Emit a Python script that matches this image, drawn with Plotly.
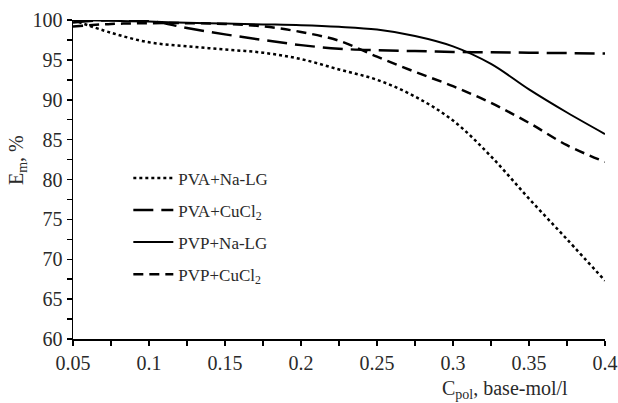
import plotly.graph_objects as go

# concentration, base-mol/l
c_pol = [0.05, 0.075, 0.1, 0.125, 0.15, 0.175, 0.2, 0.225, 0.25, 0.275, 0.3, 0.325, 0.35, 0.375, 0.4]

pva_nalg = [100.0, 98.4, 97.2, 96.7, 96.3, 95.9, 95.1, 93.8, 92.5, 90.4, 87.4, 82.9, 77.6, 72.5, 67.3]
pva_cucl2 = [99.7, 100.0, 99.9, 99.0, 98.2, 97.5, 96.85, 96.4, 96.2, 96.1, 96.0, 95.95, 95.9, 95.85, 95.8]
pvp_nalg = [100.0, 99.9, 99.8, 99.65, 99.55, 99.45, 99.35, 99.15, 98.8, 98.0, 96.7, 94.5, 91.3, 88.4, 85.7]
pvp_cucl2 = [99.2, 99.5, 99.6, 99.6, 99.5, 99.2, 98.5, 97.4, 95.4, 93.5, 91.7, 89.6, 87.1, 84.3, 82.2]

series_names = ["PVA+Na-LG", "PVA+CuCl<sub>2</sub>", "PVP+Na-LG", "PVP+CuCl<sub>2</sub>"]
series_values = [pva_nalg, pva_cucl2, pvp_nalg, pvp_cucl2]
series_dash = ["dot", "20px,8px", "solid", "10px,6px"]
series_width = [2.5, 2.5, 2.0, 2.5]

x_tick_vals = [0.05, 0.1, 0.15, 0.2, 0.25, 0.3, 0.35, 0.4]
y_tick_vals = [60, 65, 70, 75, 80, 85, 90, 95, 100]

FONT = "Liberation Serif"
TXT = "#2a2a2a"

fig = go.Figure()
for i, (name, vals) in enumerate(zip(series_names, series_values)):
    fig.add_trace(go.Scatter(
        x=c_pol, y=vals, name=name, mode="lines",
        line=dict(color="black", width=series_width[i], dash=series_dash[i],
                  shape="spline", smoothing=1.0),
        legendgroup=f"g{i}",
    ))

fig.update_layout(
    width=618, height=403,
    margin=dict(l=73, r=13, t=20, b=64, autoexpand=False),
    paper_bgcolor="white", plot_bgcolor="white",
    font=dict(family=FONT, size=17, color=TXT),
    showlegend=True,
    legend=dict(x=0.104, y=0.56, xanchor="left", yanchor="top",
                bgcolor="rgba(0,0,0,0)", borderwidth=0,
                tracegroupgap=7, itemwidth=40,
                font=dict(family=FONT, size=17, color=TXT)),
    xaxis=dict(range=[0.05, 0.4], tickvals=x_tick_vals, automargin=False,
               ticklabeloverflow="allow",
               showline=True, linecolor="black", linewidth=1.5,
               ticks="outside", ticklen=5, tickwidth=1.5, tickcolor="black",
               minor=dict(dtick=0.025, tick0=0.05, ticks="outside", ticklen=5,
                          tickwidth=1.5, tickcolor="black", showgrid=False),
               showgrid=False, zeroline=False,
               tickfont=dict(family=FONT, size=20, color=TXT)),
    yaxis=dict(range=[60, 100], tickvals=y_tick_vals, automargin=False,
               showline=True, linecolor="black", linewidth=1.5,
               ticks="outside", ticklen=5, tickwidth=1.5, tickcolor="black",
               minor=dict(dtick=2.5, tick0=60, ticks="outside", ticklen=5,
                          tickwidth=1.5, tickcolor="black", showgrid=False),
               showgrid=False, zeroline=False,
               tickfont=dict(family=FONT, size=20, color=TXT)),
    annotations=[
        dict(text="E<sub>m</sub>, %", xref="paper", yref="paper",
             x=-0.104, y=0.56, textangle=-90, showarrow=False,
             xanchor="center", yanchor="middle",
             font=dict(family=FONT, size=20, color=TXT)),
        dict(text="C<sub>pol</sub>, base-mol/l", xref="paper", yref="paper",
             x=0.934, y=-0.158, showarrow=False,
             xanchor="right", yanchor="middle",
             font=dict(family=FONT, size=20, color=TXT)),
    ],
)

fig.write_html("out.html",
               config={"displayModeBar": False, "staticPlot": True},
               post_script="document.body.style.margin='0';document.body.style.padding='0';")
